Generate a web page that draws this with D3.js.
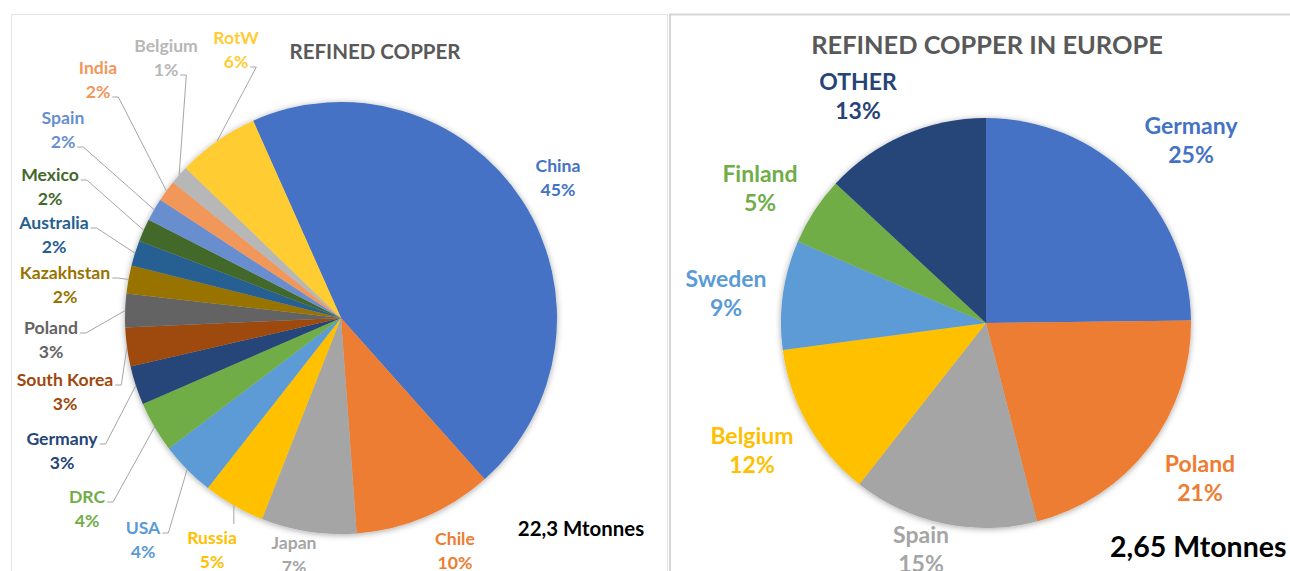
<!DOCTYPE html>
<head>
    <script src="https://d3js.org/d3.v7.min.js"></script>
    <style>
        body { margin: 0; background: #fff; }
        text { font-family: Lato, "Open Sans", sans-serif; font-weight: 700; }
    </style>
</head>
<body>
    <script>
        // world refined copper production, share in %
        const worldNames = ["China", "Chile", "Japan", "Russia", "USA", "DRC", "Germany", "South Korea",
            "Poland", "Kazakhstan", "Australia", "Mexico", "Spain", "India", "Belgium", "RotW"];
        const worldValues = [45, 10.4, 7.1, 4.6, 4.1, 3.8, 2.9, 2.9, 2.5, 2.1, 1.9, 1.7, 1.7, 1.6, 1.4, 6.1];
        const worldColors = ["#4472C4", "#ED7D31", "#A5A5A5", "#FFC000", "#5B9BD5", "#70AD47", "#264478", "#9E480E",
            "#636363", "#997300", "#255E91", "#43682B", "#698ED0", "#F1975A", "#B7B7B7", "#FFCD33"];

        // europe refined copper production, share in %
        const euNames = ["Germany", "Poland", "Spain", "Belgium", "Sweden", "Finland", "OTHER"];
        const euValues = [24.8, 21.2, 14.6, 12.3, 8.6, 5.4, 13.1];
        const euColors = ["#4472C4", "#ED7D31", "#A5A5A5", "#FFC000", "#5B9BD5", "#70AD47", "#264478"];

        // label layout: block centre and which line the leader starts from
        const worldLabelPos = [[558, 178, null], [455, 551, null], [294, 555, null], [212, 550, "top"],
            [143, 540, 0], [87, 509, 0], [62, 451, 0], [65, 392, 0], [51, 340, 0], [65, 285, 0],
            [54, 235, 0], [50, 187, 0], [63, 130, 1], [98, 80, 1], [166, 58, 1], [236, 50, 1]];
        const euLabelPos = [[1191, 140], [1200, 478], [921, 549], [752, 450], [726, 293], [760, 188], [858, 96]];

        const W = 1290, H = 571;
        const svg = d3.select("body").append("svg")
            .attr("width", W)
            .attr("height", H);

        // soft shadow like excel
        const f = svg.append("defs").append("filter")
            .attr("id", "shadow")
            .attr("x", "-10%").attr("y", "-10%")
            .attr("width", "120%").attr("height", "120%");
        f.append("feDropShadow")
            .attr("dx", 0).attr("dy", 1)
            .attr("stdDeviation", 3)
            .attr("flood-color", "#000")
            .attr("flood-opacity", 0.35);

        // panel frames
        svg.append("path")
            .attr("d", "M11.5,600 V14.5 H667.5 V600")
            .attr("fill", "none")
            .attr("stroke", "#E3E3E3");
        svg.append("path")
            .attr("d", "M670,600 V14.5 H1300")
            .attr("fill", "none")
            .attr("stroke", "#D6D6D6")
            .attr("stroke-width", 2);

        function drawPie(opts) {
            const g = svg.append("g")
                .attr("transform", `translate(${opts.cx},${opts.cy})`);
            const pie = d3.pie()
                .sort(null)
                .startAngle(opts.start)
                .endAngle(opts.start + 2 * Math.PI);
            const arcs = pie(opts.values);
            const arc = d3.arc().innerRadius(0).outerRadius(opts.r);
            const total = d3.sum(opts.values);

            g.append("g")
                .attr("filter", "url(#shadow)")
                .selectAll("path")
                .data(arcs)
                .join("path")
                .attr("d", arc)
                .attr("fill", (d, i) => opts.colors[i]);

            const labels = svg.append("g");
            arcs.forEach((d, i) => {
                const [lx, ly, attach] = opts.pos[i];
                const lab = labels.append("g")
                    .attr("fill", opts.colors[i])
                    .attr("font-size", opts.fs)
                    .attr("text-anchor", "middle");
                const lines = [opts.names[i], Math.round(d.value / total * 100) + "%"];
                const nodes = lines.map((t, k) => lab.append("text")
                    .attr("x", lx)
                    .attr("y", ly + (k - 0.5) * opts.lh)
                    .attr("dy", "0.35em")
                    .text(t));
                if (attach === null || attach === undefined) return;

                // leader line to the middle of the slice's outer edge
                const mid = (d.startAngle + d.endAngle) / 2;
                const px = opts.cx + opts.r * Math.sin(mid);
                const py = opts.cy - opts.r * Math.cos(mid);
                let pts;
                if (attach === "top") {
                    pts = [[px, py], [px, ly - opts.lh - 2]];
                } else {
                    const w = nodes[attach].node().getComputedTextLength();
                    const ay = ly + (attach - 0.5) * opts.lh + 5;
                    pts = [[lx + w / 2 + 2, ay], [lx + w / 2 + 8, ay], [px, py]];
                }
                labels.append("path")
                    .attr("d", d3.line()(pts))
                    .attr("fill", "none")
                    .attr("stroke", "#A6A6A6")
                    .attr("stroke-width", 1);
            });
        }

        drawPie({
            cx: 341, cy: 318, r: 216, start: -24 * Math.PI / 180,
            names: worldNames, values: worldValues, colors: worldColors,
            pos: worldLabelPos, fs: 17.6, lh: 24
        });
        drawPie({
            cx: 986, cy: 323, r: 205, start: 0,
            names: euNames, values: euValues, colors: euColors,
            pos: euLabelPos, fs: 23, lh: 29
        });

        // titles and totals
        svg.append("text")
            .attr("x", 375).attr("y", 52).attr("dy", "0.35em")
            .attr("text-anchor", "middle")
            .attr("font-size", 20.5)
            .attr("fill", "#595959")
            .text("REFINED COPPER");
        svg.append("text")
            .attr("x", 987).attr("y", 45).attr("dy", "0.35em")
            .attr("text-anchor", "middle")
            .attr("font-size", 25.4)
            .attr("fill", "#595959")
            .text("REFINED COPPER IN EUROPE");
        svg.append("text")
            .attr("x", 581).attr("y", 529).attr("dy", "0.35em")
            .attr("text-anchor", "middle")
            .attr("font-size", 20.4)
            .attr("fill", "#000")
            .text("22,3 Mtonnes");
        svg.append("text")
            .attr("x", 1110).attr("y", 547).attr("dy", "0.35em")
            .attr("font-size", 28.5)
            .attr("fill", "#000")
            .text("2,65 Mtonnes");
    </script>
</body>
